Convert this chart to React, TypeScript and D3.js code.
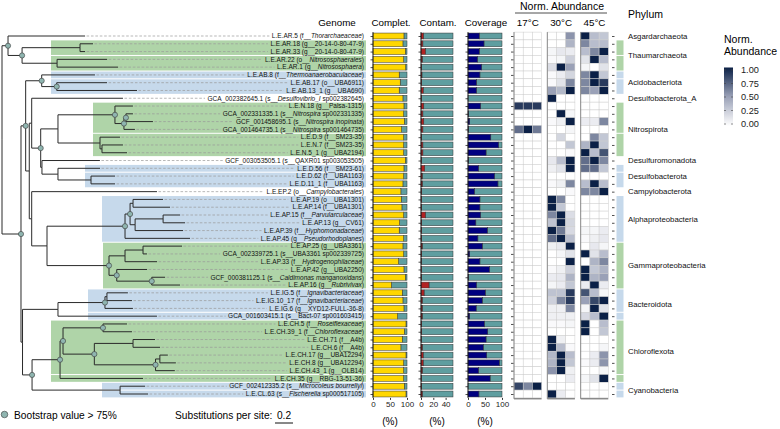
import { useEffect, useRef } from "react";
import * as d3 from "d3";

// genomes in tree order (top to bottom)
const genomes = [
  "L.E.AR.5", "L.E.AR.18", "L.E.AR.33", "L.E.AR.22", "L.E.AR.1",
  "L.E.AB.8", "L.E.AB.17", "L.E.AB.13_1", "GCA_002382645.1",
  "L.E.N.18", "GCA_002331335.1", "GCF_001458695.1", "GCA_001464735.1",
  "L.E.D.9", "L.E.N.7", "L.E.N.5_1", "GCF_003053505.1",
  "L.E.D.56", "L.E.D.62", "L.E.D.11_1", "L.E.EP.2",
  "L.E.AP.19", "L.E.AP.14", "L.E.AP.15", "L.E.AP.13", "L.E.AP.39", "L.E.AP.45",
  "L.E.AP.25", "GCA_002339725.1", "L.E.AP.33", "L.E.AP.42", "GCF_000381125.1", "L.E.AP.16",
  "L.E.IG.5", "L.E.IG.10_17", "L.E.IG.6", "GCA_001603415.1",
  "L.E.CH.5", "L.E.CH.39_1", "L.E.CH.71", "L.E.CH.6", "L.E.CH.17", "L.E.CH.8",
  "L.E.CH.43_1", "L.E.CH.35", "GCF_002412335.2", "L.E.CL.63",
];

// GTDB taxonomy, *...* = italic
const taxa = [
  "f__*Thorarchaeaceae*", "g__20-14-0-80-47-9", "g__20-14-0-80-47-9", "o__*Nitrososphaerales*", "g__*Nitrososphaera*",
  "f__*Thermoanaerobaculaceae*", "o__UBA6911", "g__UBA690", "s__*Desulfovibrio_I* sp002382645",
  "g__Palsa-1315", "s__*Nitrospira* sp002331335", "s__*Nitrospira inopinata*", "s__*Nitrospira* sp001464735",
  "f__SM23-35", "f__SM23-35", "g__UBA2194", "s__QAXR01 sp003053505",
  "f__SM23-61", "f__UBA1163", "f__UBA1163", "o__*Campylobacterales*",
  "o__UBA1301", "f__UBA1301", "f__*Parvularculaceae*", "g__CV61", "f__*Hyphomonadaceae*", "g__*Pseudorhodoplanes*",
  "g__UBA3361", "s__UBA3361 sp002339725", "f__*Hydrogenophilaceae*", "g__UBA2250", "s__*Caldimonas manganoxidans*", "g__*Rubrivivax*",
  "f__*Ignavibacteriaceae*", "f__*Ignavibacteriaceae*", "g__XYD12-FULL-36-8", "s__Bact-07 sp001603415",
  "f__*Roseiflexaceae*", "f__*Chloroflexaceae*", "f__A4b", "f__A4b", "g__UBA12294", "g__UBA12294",
  "g__OLB14", "g__RBG-13-51-36", "s__*Microcoleus bourrellyi*", "s__*Fischerella* sp000517105",
];

const phyla = [
  "Asgardarchaeota", "Thaumarchaeota", "Thaumarchaeota", "Thaumarchaeota", "Thaumarchaeota",
  "Acidobacteriota", "Acidobacteriota", "Acidobacteriota", "Desulfobacterota_A",
  "Nitrospirota", "Nitrospirota", "Nitrospirota", "Nitrospirota",
  "Nitrospirota", "Nitrospirota", "Nitrospirota", "Desulfuromonadota",
  "Desulfobacterota", "Desulfobacterota", "Desulfobacterota", "Campylobacterota",
  "Alphaproteobacteria", "Alphaproteobacteria", "Alphaproteobacteria", "Alphaproteobacteria", "Alphaproteobacteria", "Alphaproteobacteria",
  "Gammaproteobacteria", "Gammaproteobacteria", "Gammaproteobacteria", "Gammaproteobacteria", "Gammaproteobacteria", "Gammaproteobacteria",
  "Bacteroidota", "Bacteroidota", "Bacteroidota", "Bacteroidota",
  "Chloroflexota", "Chloroflexota", "Chloroflexota", "Chloroflexota", "Chloroflexota", "Chloroflexota",
  "Chloroflexota", "Chloroflexota", "Cyanobacteria", "Cyanobacteria",
];

// highlighted sub-clades ("" = not highlighted)
const highlight = [
  "", "T1", "T1", "T2", "T2",
  "A1", "A2", "A2", "",
  "N1", "N1", "N1", "N1",
  "N2", "N2", "N2", "",
  "D1", "D2", "D2", "",
  "AP", "AP", "AP", "AP", "AP", "AP",
  "GP", "GP", "GP", "GP", "GP", "GP",
  "B1", "B1", "B1", "B2",
  "C1", "C1", "C1", "C1", "C1", "C1", "C1", "C2",
  "Y1", "Y2",
];

const completeness = [
  91, 88, 95, 90, 96, 77, 80, 77, 88, 91, 90, 92, 84, 90, 90, 90, 95, 91, 90, 88, 82, 83, 85, 90,
  78, 77, 90, 88, 90, 75, 91, 95, 54, 86, 88, 91, 72, 97, 92, 86, 82, 97, 90, 90, 90, 92, 97,
];
const contamination = [
  4, 3, 7, 2, 1, 1.5, 1, 3.5, 1, 4.5, 3, 4.5, 3, 1, 3, 3, 1, 6, 2, 2, 1, 1, 1, 7,
  1, 1, 1, 2, 1, 0.5, 1, 1, 13, 5, 2, 2, 2, 1, 1, 0.5, 2, 3.5, 3.5, 2, 1, 1, 2,
];
const coverage = [
  33, 47, 33, 28, 40, 35, 25, 25, 0, 37, 1, 5, 1, 67, 90, 53, 1, 31, 78, 88, 19, 35, 35, 37,
  23, 57, 29, 42, 5, 35, 63, 1, 25, 51, 42, 24, 5, 48, 58, 53, 45, 55, 92, 31, 65, 0, 32,
];

// normalised abundance, three replicates per temperature
const abund17 = [
  [0, 0, 0], [0, 0, 0], [0, 0, 0], [0, 0, 0], [0, 0, 0], [0, 0, 0], [0, 0, 0], [0, 0, 0], [0, 0, 0],
  [0.9, 0.9, 0.9], [0, 0, 0], [0, 0, 0], [0.7, 1, 0.65], [0, 0, 0], [0, 0, 0], [0, 0, 0], [0, 0, 0],
  [0, 0, 0], [0, 0, 0], [0, 0, 0], [0, 0, 0], [0, 0, 0], [0, 0, 0], [0, 0, 0], [0, 0, 0], [0, 0, 0],
  [0, 0, 0], [0, 0, 0], [0, 0, 0], [0, 0, 0], [0, 0, 0], [0, 0, 0], [0, 0, 0], [0, 0, 0], [0, 0, 0],
  [0, 0, 0], [0, 0, 0], [0, 0, 0], [0, 0, 0], [0, 0, 0], [0, 0, 0], [0, 0, 0], [0, 0, 0], [0, 0, 0],
  [0, 0, 0], [0.85, 0.6, 1], [0, 0, 0],
];
const abund30 = [
  [0, 0, 0.55], [0, 0, 0.4], [0.05, 0.12, 0.1], [0.03, 0.05, 0.25], [0.18, 1, 0.5], [0.03, 0.1, 0.22],
  [0.03, 0.15, 0.6], [0.5, 0.38, 1], [1, 0, 0], [0, 0, 0], [0, 1, 0.05], [0.03, 0.08, 1], [0, 0, 0.05],
  [0, 0.22, 0], [0, 0, 0.3], [0, 0, 0.03], [0.12, 0.35, 1], [0.08, 0.15, 1], [0, 0, 0], [0.03, 0.08, 0.6],
  [0, 0, 0.03], [1, 0.6, 0], [1, 0.3, 0], [0.6, 1, 0.18], [0.32, 1, 0.22], [1, 0.65, 0.2], [0.7, 1, 0.35],
  [0.08, 0.12, 1], [0, 0.05, 0.15], [0, 0, 1], [0.03, 0.08, 0.25], [0.1, 0.12, 0.4], [0.05, 0.1, 0.3],
  [0.32, 0.32, 0.9], [0.25, 0.6, 0.9], [0.08, 0.08, 0.6], [0.08, 0.08, 0.08], [0.03, 0.03, 0.05], [0, 0, 0],
  [1, 0.08, 0], [1, 0.35, 0.03], [0.38, 1, 0.35], [0.4, 1, 0.3], [0.55, 1, 0.08], [0, 0, 0.1], [0, 0, 0],
  [1, 0.1, 0],
];
const abund45 = [
  [1, 0.35, 0.3], [0.6, 0.35, 0.35], [0.35, 0.6, 1], [0.15, 1, 0.35], [0.05, 0, 0.15], [0.6, 1, 0.3],
  [0.6, 1, 0.9], [0.6, 0.5, 1], [0, 0, 0], [0, 0, 0], [0, 0, 0], [0.1, 0.1, 0.6], [0, 0, 0],
  [0, 0.6, 0.3], [0.4, 1, 0.3], [1, 0.35, 0.8], [0.7, 1, 0.6], [0.7, 0.7, 0.3], [0, 0, 0], [0.35, 1, 0.35],
  [0.6, 0.6, 1], [0, 0, 0], [0, 0, 0], [0, 0, 0], [0, 0, 0], [0.05, 0.05, 0.1], [0.03, 0.08, 0.12],
  [0, 0.12, 0.05], [1, 0.15, 0.35], [0, 0.4, 0.6], [1, 0.3, 0.4], [1, 0.4, 0.5], [0.1, 1, 0.1],
  [0.8, 0.35, 0.05], [0.5, 0.85, 1], [0.05, 1, 0.15], [0.2, 0.35, 1], [1, 0, 0.35], [1, 0, 0.3],
  [0, 0, 0], [0, 0, 0.05], [0, 0.1, 0.55], [0.03, 0.1, 0.55], [0, 0, 0.05], [0.05, 0.15, 1], [0, 0, 0],
  [0, 0, 0],
];
const temperatures = ["17°C", "30°C", "45°C"];
const legendTicks = [0, 0.25, 0.5, 0.75, 1];

// phylogeny, branch lengths in substitutions per site, node labels = bootstrap
const newick = `(
(L.E.AR.5:0.856,((L.E.AR.18:0.144,L.E.AR.33:0.056)60:0.644,(L.E.AR.22:0.556,L.E.AR.1:0.678)70:0.389)98:0.156)100:0.067,
(
 (
  (L.E.AB.8:0.592,(L.E.AB.17:0.559,L.E.AB.13_1:0.892)95:0.167)100:0.178,
  (
   (GCA_002382645.1:1.014,
    (
     ((L.E.N.18:0.2,((GCA_002331335.1:0.078,GCF_001458695.1:0.3)100:0.022,GCA_001464735.1:0.122)100:0.1)100:0.633,
      (L.E.D.9:0.222,(L.E.N.7:0.233,L.E.N.5_1:0.278)40:0.022)60:0.467)70:0.192,
     (GCF_003053505.1:0.644,(L.E.D.56:0.467,(L.E.D.62:0.267,L.E.D.11_1:0.267)70:0.367)65:0.178)50:0.014
    )88:0.1
   )55:0.027,
   (L.E.EP.2:1.392,
    (
     (((L.E.AP.19:0.333,L.E.AP.14:0.411)70:0.033,((L.E.AP.15:0.189,L.E.AP.13:0.244)70:0.311,L.E.AP.39:0.533)60:0.056)90:0.056,L.E.AP.45:0.722)100:0.867,
     (((L.E.AP.25:0.433,GCA_002339725.1:0.044)70:0.2,L.E.AP.33:0.356)65:0.178,(L.E.AP.42:0.337,(GCF_000381125.1:0.148,L.E.AP.16:0.314)92:0.389)95:0.086)100:0.689
    )60:0.17
   )50:0.027
  )60:0.04
 )85:0.052,
 (
  (((L.E.IG.5:0.233,L.E.IG.10_17:0.278)60:0.022,L.E.IG.6:0.311)100:0.522,GCA_001603415.1:1.1)70:0.394,
  (
   (((L.E.CH.5:0.267,L.E.CH.39_1:0.322)100:0.444,((L.E.CH.71:0.244,L.E.CH.6:0.3)70:0.43,((L.E.CH.17:0.089,L.E.CH.8:0.178)60:0.048,L.E.CH.43_1:0.214)96:0.68)99:0.348)100:0.033,L.E.CH.35:0.922)100:0.311,
   (GCF_002412335.2:0.278,L.E.CL.63:0.311)70:0.978
  )90:0.106
 )60:0.017
)100:0.211
);`;

// styling
const FONT = "'Liberation Sans', Arial, sans-serif";
const shade: Record<string, string> = { green: "#afd4a8", blue: "#c6d9eb" };
const phylumShade: Record<string, string> = {
  Thaumarchaeota: "green", Acidobacteriota: "blue", Nitrospirota: "green", Desulfobacterota: "blue",
  Alphaproteobacteria: "blue", Gammaproteobacteria: "green", Bacteroidota: "blue", Chloroflexota: "green",
  Cyanobacteria: "blue",
};
// where each clade highlight starts (px)
const bandStart: Record<string, number> = {
  Thaumarchaeota: 51, Acidobacteriota: 51, Nitrospirota: 93, Desulfobacterota: 85,
  Alphaproteobacteria: 102, Gammaproteobacteria: 103, Bacteroidota: 88, Chloroflexota: 51, Cyanobacteria: 102,
};

function parseNewick(s: string) {
  const tokens = s.replace(/\s+/g, "").split(/([;(),:])/).filter((t) => t !== "");
  let node: any = {};
  const stack: any[] = [];
  let prev = "";
  for (const t of tokens) {
    if (t === "(") {
      const child: any = {};
      node.children = [child];
      stack.push(node);
      node = child;
    } else if (t === ",") {
      const child: any = {};
      stack[stack.length - 1].children.push(child);
      node = child;
    } else if (t === ")") {
      node = stack.pop();
    } else if (t !== ":" && t !== ";") {
      if (prev === ":") node.length = parseFloat(t);
      else if (prev === ")") node.support = +t;
      else node.name = t;
    }
    prev = t;
  }
  return node;
}

export default function App() {
  const svgRef = useRef<SVGSVGElement>(null);

  useEffect(() => {
    const svg = d3.select(svgRef.current);
    svg.selectAll("*").remove();
    svg.attr("font-family", FONT);

    const rowY = d3.scalePoint<string>().domain(genomes).range([36, 394]);
    const step = rowY.step();
    const half = step / 2;
    const top = 36 - half;
    const bottom = 394 + half;
    const treeX = d3.scaleLinear().domain([0, 1]).range([2, 92]);
    const labelRight = 364;

    // ---- tree layout
    const root: any = d3.hierarchy(parseNewick(newick));
    root.eachBefore((n: any) => {
      n.dist = n.parent ? n.parent.dist + (n.data.length || 0) : 0;
    });
    root.eachAfter((n: any) => {
      n.ty = n.children ? d3.mean(n.children, (c: any) => c.ty) : rowY(n.data.name);
    });

    // ---- clade highlights
    const rows = genomes.map((g, i) => ({ g, i, h: highlight[i], p: phyla[i] }));
    const bands = d3.groups(rows.filter((d) => d.h), (d) => d.h).map(([, v]) => ({
      first: v[0].i,
      last: v[v.length - 1].i,
      p: v[0].p,
    }));
    svg.append("g")
      .selectAll("rect")
      .data(bands)
      .join("rect")
      .attr("x", (d) => bandStart[d.p])
      .attr("width", (d) => labelRight + 2 - bandStart[d.p])
      .attr("y", (d) => rowY(genomes[d.first])! - half + 0.5)
      .attr("height", (d) => rowY(genomes[d.last])! - rowY(genomes[d.first])! + step - 1)
      .attr("fill", (d) => shade[phylumShade[d.p]]);

    // ---- labels
    const connectors = svg.append("g");
    const labels = svg.append("g").attr("font-size", 6.5).attr("fill", "#111");
    const widths: number[] = [];
    genomes.forEach((g, i) => {
      const t = labels.append("text")
        .attr("x", labelRight)
        .attr("y", rowY(g)!)
        .attr("dy", "0.35em")
        .attr("text-anchor", "end");
      `${g} (${taxa[i]})`.split("*").forEach((part, k) => {
        t.append("tspan").attr("font-style", k % 2 ? "italic" : "normal").text(part);
      });
      widths[i] = (t.node() as SVGTextElement).getComputedTextLength();
    });

    // ---- dashed connectors leaf -> label
    const leaves = root.leaves();
    connectors.selectAll("line")
      .data(leaves)
      .join("line")
      .attr("x1", (d: any) => treeX(d.dist) + 1.5)
      .attr("x2", (d: any) => labelRight - widths[genomes.indexOf(d.data.name)] - 2.5)
      .attr("y1", (d: any) => d.ty)
      .attr("y2", (d: any) => d.ty)
      .attr("stroke", "#9a9a9a")
      .attr("stroke-width", 0.7)
      .attr("stroke-dasharray", "2.6,1.8");

    // ---- tree branches
    svg.append("g")
      .selectAll("path")
      .data(root.descendants().filter((n: any) => n.parent))
      .join("path")
      .attr("d", (n: any) => `M${treeX(n.parent.dist)},${n.parent.ty}V${n.ty}H${treeX(n.dist)}`)
      .attr("fill", "none")
      .attr("stroke", "#2a2a2a")
      .attr("stroke-width", 1);

    const supported = root.descendants().filter((n: any) => n.children && n.data.support > 75);
    svg.append("g")
      .selectAll("circle")
      .data(supported)
      .join("circle")
      .attr("cx", (n: any) => treeX(n.dist))
      .attr("cy", (n: any) => n.ty)
      .attr("r", 2.6)
      .attr("fill", "#8fb5b0")
      .attr("stroke", "#3a3a3a")
      .attr("stroke-width", 0.6);

    // ---- header
    svg.append("text").attr("x", 337).attr("y", 25.5).attr("text-anchor", "middle")
      .attr("font-size", 9.8).text("Genome");

    // ---- bar columns
    const cols = [
      { title: "Complet.", values: completeness, domain: [0, 100], range: [373, 407], ticks: [0, 50, 100], fill: "#ffd700" },
      { title: "Contam.", values: contamination, domain: [0, 52], range: [421, 453], ticks: [0, 20, 40], fill: "#b22222" },
      { title: "Coverage", values: coverage, domain: [0, 100], range: [468, 502], ticks: [0, 50, 100], fill: "#000080" },
    ];
    const barH = step * 0.76;
    cols.forEach((c) => {
      const x = d3.scaleLinear().domain(c.domain).range(c.range);
      const g = svg.append("g");
      g.append("text").attr("x", (c.range[0] + c.range[1]) / 2 + 1).attr("y", 25.5)
        .attr("text-anchor", "middle").attr("font-size", 9.8).text(c.title);
      g.selectAll("rect.rest")
        .data(c.values)
        .join("rect")
        .attr("class", "rest")
        .attr("x", (v) => x(v))
        .attr("width", (v) => x(c.domain[1]) - x(v))
        .attr("y", (_, i) => rowY(genomes[i])! - barH / 2)
        .attr("height", barH)
        .attr("fill", "#5f9ea0")
        .attr("stroke", "#333")
        .attr("stroke-width", 0.5);
      g.selectAll("rect.val")
        .data(c.values)
        .join("rect")
        .attr("class", "val")
        .attr("x", x(0))
        .attr("width", (v) => x(v) - x(0))
        .attr("y", (_, i) => rowY(genomes[i])! - barH / 2)
        .attr("height", barH)
        .attr("fill", c.fill)
        .attr("stroke", "#333")
        .attr("stroke-width", 0.5);
      // y axis with row ticks
      const yAxis = g.append("g").attr("transform", `translate(${x(0)},0)`)
        .call(d3.axisLeft(rowY).tickFormat(() => "").tickSize(2.5).tickSizeOuter(0));
      yAxis.select(".domain").remove();
      yAxis.selectAll("line").attr("stroke", "#222").attr("stroke-width", 0.8);
      yAxis.append("line").attr("y1", top).attr("y2", bottom).attr("stroke", "#111").attr("stroke-width", 0.9);
      // x axis
      const xAxis = g.append("g").attr("transform", `translate(0,${bottom})`)
        .call(d3.axisBottom(x).tickValues(c.ticks).tickSize(2).tickPadding(1.5));
      xAxis.select(".domain").remove();
      xAxis.selectAll("text").attr("font-size", 8).attr("fill", "#222").attr("font-family", FONT);
      xAxis.selectAll("line").attr("stroke", "#333");
      g.append("text").attr("x", (c.range[0] + c.range[1]) / 2).attr("y", 425)
        .attr("text-anchor", "middle").attr("font-size", 10).text("(%)");
    });

    // ---- heatmap
    const heat = d3.scaleLinear<string>().domain([0, 0.5, 1]).range(["#ffffff", "#9aa1b7", "#0b2046"]);
    const panels = [abund17, abund30, abund45];
    const panelX = [514, 547.3, 580.7];
    const cellW = 9.2;
    svg.append("text").attr("x", 562).attr("y", 9.5).attr("text-anchor", "middle")
      .attr("font-size", 10.5).text("Norm. Abundance");
    svg.append("line").attr("x1", 515).attr("x2", 607).attr("y1", 13).attr("y2", 13)
      .attr("stroke", "#222").attr("stroke-width", 0.8);
    panels.forEach((data, p) => {
      const g = svg.append("g");
      const cells = data.flatMap((reps, i) => reps.map((v, r) => ({ v, r, i })));
      g.selectAll("rect")
        .data(cells)
        .join("rect")
        .attr("x", (d) => panelX[p] + d.r * cellW)
        .attr("y", (d) => rowY(genomes[d.i])! - half)
        .attr("width", cellW)
        .attr("height", step)
        .attr("fill", (d) => heat(d.v))
        .attr("stroke", "#cdcdcd")
        .attr("stroke-width", 0.5);
      g.append("line").attr("x1", panelX[p]).attr("x2", panelX[p]).attr("y1", top).attr("y2", bottom + 1)
        .attr("stroke", "#8a8a8a").attr("stroke-width", 1);
      g.append("line").attr("x1", panelX[p]).attr("x2", panelX[p] + 3 * cellW).attr("y1", bottom + 0.8)
        .attr("y2", bottom + 0.8).attr("stroke", "#8a8a8a").attr("stroke-width", 1.5);
      g.append("text").attr("x", panelX[p] + 1.5 * cellW).attr("y", 25.5).attr("text-anchor", "middle")
        .attr("font-size", 9.8).text(temperatures[p]);
    });
    const hTicks = svg.append("g").attr("transform", `translate(${panelX[0] - 0.5},0)`)
      .call(d3.axisLeft(rowY).tickFormat(() => "").tickSize(2.5).tickSizeOuter(0));
    hTicks.select(".domain").remove();
    hTicks.selectAll("line").attr("stroke", "#222").attr("stroke-width", 0.8);

    // ---- phylum strip
    const stripX = 616.5;
    svg.append("g")
      .selectAll("rect")
      .data(bands)
      .join("rect")
      .attr("x", stripX)
      .attr("width", 7)
      .attr("y", (d) => rowY(genomes[d.first])! - half + 0.5)
      .attr("height", (d) => rowY(genomes[d.last])! - rowY(genomes[d.first])! + step - 1)
      .attr("fill", (d) => shade[phylumShade[d.p]]);
    const sTicks = svg.append("g").attr("transform", `translate(${stripX - 2},0)`)
      .call(d3.axisLeft(rowY).tickFormat(() => "").tickSize(2.5).tickSizeOuter(0));
    sTicks.select(".domain").remove();
    sTicks.selectAll("line").attr("stroke", "#222").attr("stroke-width", 0.8);

    svg.append("text").attr("x", 628).attr("y", 17.5).attr("font-size", 10.5).text("Phylum");
    const phylumRows = d3.groups(rows, (d) => d.p);
    svg.append("g")
      .selectAll("text")
      .data(phylumRows)
      .join("text")
      .attr("x", 628)
      .attr("y", ([, v]) => d3.mean(v, (d) => rowY(d.g)!)!)
      .attr("dy", "0.35em")
      .attr("font-size", 7.8)
      .attr("fill", "#111")
      .text(([p]) => p);

    // ---- colour legend
    const defs = svg.append("defs");
    const grad = defs.append("linearGradient").attr("id", "abund-grad")
      .attr("x1", 0).attr("y1", 1).attr("x2", 0).attr("y2", 0);
    d3.range(0, 1.001, 0.05).forEach((t) => {
      grad.append("stop").attr("offset", t).attr("stop-color", heat(t));
    });
    const ly = d3.scaleLinear().domain([0, 1]).range([124, 70]);
    svg.append("text").attr("x", 724).attr("y", 42.5).attr("font-size", 10.5).text("Norm.");
    svg.append("text").attr("x", 724).attr("y", 55).attr("font-size", 10.5).text("Abundance");
    svg.append("rect").attr("x", 724).attr("y", 67.5).attr("width", 9).attr("height", 58.5)
      .attr("fill", "url(#abund-grad)");
    const lt = svg.append("g");
    legendTicks.forEach((t) => {
      lt.append("line").attr("x1", 724).attr("x2", 726).attr("y1", ly(t)).attr("y2", ly(t))
        .attr("stroke", "#444").attr("stroke-width", 0.6);
      lt.append("line").attr("x1", 731).attr("x2", 733).attr("y1", ly(t)).attr("y2", ly(t))
        .attr("stroke", "#444").attr("stroke-width", 0.6);
      lt.append("text").attr("x", 741).attr("y", ly(t)).attr("dy", "0.35em").attr("font-size", 9.2)
        .attr("fill", "#222").text(d3.format(".2f")(t));
    });

    // ---- bottom legends
    svg.append("circle").attr("cx", 4.5).attr("cy", 414.5).attr("r", 3.3)
      .attr("fill", "#8fb5b0").attr("stroke", "#3a3a3a").attr("stroke-width", 0.6);
    svg.append("text").attr("x", 14).attr("y", 418.5).attr("font-size", 10.2).text("Bootstrap value > 75%");
    svg.append("text").attr("x", 175).attr("y", 418.5).attr("font-size", 10.2).text("Substitutions per site:");
    const barLen = treeX(0.2) - treeX(0);
    svg.append("text").attr("x", 275 + barLen / 2).attr("y", 418.5).attr("text-anchor", "middle")
      .attr("font-size", 10.2).text("0.2");
    svg.append("line").attr("x1", 275).attr("x2", 275 + barLen).attr("y1", 423).attr("y2", 423)
      .attr("stroke", "#111").attr("stroke-width", 1);
  }, []);

  return (
    <svg
      ref={svgRef}
      width={780}
      height={429}
      style={{ position: "absolute", left: 0, top: 0, background: "#fff" }}
    />
  );
}
